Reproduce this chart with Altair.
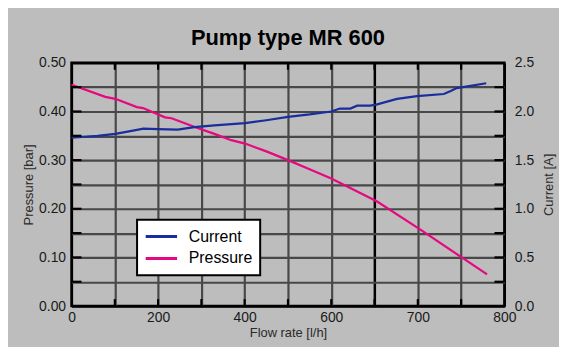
import altair as alt
import pandas as pd

# Pressure curve [bar] vs flow rate [l/h]
flow_p = [0, 78, 101, 151, 165, 216, 231, 291, 330, 369, 401, 450, 500, 550, 600, 653, 703, 749, 780]
pressure = [0.455, 0.430, 0.426, 0.409, 0.407, 0.388, 0.386, 0.366, 0.354, 0.341, 0.334, 0.318,
            0.300, 0.281, 0.262, 0.215, 0.157, 0.102, 0.065]

# Current curve [A] vs flow rate [l/h]
flow_c = [0, 60, 101, 139, 166, 200, 245, 284, 330, 401, 450, 500, 550, 600, 610, 622, 630,
          645, 652, 676, 699, 730, 738, 745, 779]
current = [1.73, 1.75, 1.77, 1.80, 1.823, 1.818, 1.813, 1.84, 1.857, 1.88, 1.91, 1.945, 1.97,
           2.00, 2.03, 2.03, 2.06, 2.06, 2.07, 2.13, 2.157, 2.18, 2.21, 2.24, 2.29]

x_ticks = [0, 100, 200, 300, 400, 500, 600, 650, 700, 750, 800]
p_ticks = [0.0, 0.05, 0.1, 0.15, 0.2, 0.25, 0.3, 0.35, 0.4, 0.45, 0.5]
a_ticks = [0.0, 0.25, 0.5, 0.75, 1.0, 1.25, 1.5, 1.75, 2.0, 2.25, 2.5]
series = ["Current", "Pressure"]
colors = ["#1a2d9c", "#e6087f"]

W, H = 436, 245
FONT = "Liberation Sans"

pdf = pd.DataFrame({"flow": flow_p, "value": pressure, "series": "Pressure"})
cdf = pd.DataFrame({"flow": flow_c, "value": current, "series": "Current"})
ytick_df = pd.DataFrame({"p": p_ticks[1:-1]})
xtick_df = pd.DataFrame({"flow": x_ticks[1:-1]})

xscale = alt.Scale(domain=[0, 600, 800], range=[0, W * 0.6, W], nice=False, zero=False)
pscale = alt.Scale(domain=[0, 0.5], nice=False, zero=False)
ascale = alt.Scale(domain=[0, 2.5], nice=False, zero=False)

xaxis = alt.Axis(
    values=x_ticks,
    labelExpr="indexof([0,200,400,600,700,800], datum.value) >= 0 ? datum.value : ''",
    title="Flow rate [l/h]",
    grid=True,
    gridColor={"condition": {"test": "datum.value == 0 || datum.value == 650 || datum.value == 800",
                             "value": "black"}, "value": "#484848"},
    gridWidth={"condition": {"test": "datum.value == 650", "value": 2.5}, "value": 2.2},
    ticks=False, domain=False, labelFlush=False, labelOverlap=False,
    labelFontSize=14, labelPadding=5, labelColor="#1a1a1a", labelFont=FONT,
    titleFontSize=13, titleFontWeight="normal", titleColor="#2a2a2a", titleFont=FONT, titlePadding=2,
)

left_axis = alt.Axis(
    orient="left", values=p_ticks,
    labelExpr="(round(datum.value*100) % 10 == 0) ? format(datum.value, '.2f') : ''",
    title="Pressure [bar]", grid=True,
    gridColor={"condition": {"test": "datum.value == 0 || datum.value == 0.5", "value": "black"},
               "value": "#484848"},
    gridWidth=2.2, ticks=False, domain=False, labelOverlap=False,
    labelFontSize=14, labelPadding=6, labelColor="#1a1a1a", labelFont=FONT,
    titleFontSize=13, titleFontWeight="normal", titleColor="#2a2a2a", titleFont=FONT, titlePadding=3,
)

right_axis = alt.Axis(
    orient="right", values=a_ticks,
    labelExpr="(round(datum.value*100) % 50 == 0) ? format(datum.value, '.1f') : ''",
    title="Current  [A]", titleAngle=270, grid=False, ticks=False, domain=False, labelOverlap=False,
    labelFontSize=14, labelPadding=10, labelColor="#1a1a1a", labelFont=FONT,
    titleFontSize=13, titleFontWeight="normal", titleColor="#2a2a2a", titleFont=FONT, titlePadding=22,
)

color = alt.Color(
    "series:N",
    scale=alt.Scale(domain=series, range=colors),
    legend=alt.Legend(
        title=None, orient="none", legendX=66, legendY=158,
        fillColor="white", strokeColor="black", padding=7,
        labelFontSize=16, labelFont=FONT, labelColor="black", labelOffset=10,
        symbolType="stroke", symbolSize=1000, symbolStrokeWidth=3, rowPadding=2,
        clipHeight=20,
    ),
)

pressure_line = alt.Chart(pdf).mark_line(strokeWidth=2.2).encode(
    x=alt.X("flow:Q", scale=xscale, axis=xaxis),
    y=alt.Y("value:Q", scale=pscale, axis=left_axis),
    color=color,
)

current_line = alt.Chart(cdf).mark_line(strokeWidth=2.2).encode(
    x=alt.X("flow:Q", scale=xscale, axis=xaxis),
    y=alt.Y("value:Q", scale=ascale, axis=right_axis),
    color=color,
)

left_ticks = alt.Chart(ytick_df).mark_rule(color="black", strokeWidth=2.2).encode(
    y=alt.Y("p:Q", scale=pscale, axis=None), x=alt.value(0), x2=alt.value(10))
right_ticks = alt.Chart(ytick_df).mark_rule(color="black", strokeWidth=2.2).encode(
    y=alt.Y("p:Q", scale=pscale, axis=None), x=alt.value(W - 10), x2=alt.value(W))
top_ticks = alt.Chart(xtick_df).mark_rule(color="black", strokeWidth=2.2).encode(
    x=alt.X("flow:Q", scale=xscale, axis=xaxis), y=alt.value(0), y2=alt.value(7))
bottom_ticks = alt.Chart(xtick_df).mark_rule(color="black", strokeWidth=2.2).encode(
    x=alt.X("flow:Q", scale=xscale, axis=xaxis), y=alt.value(H - 7), y2=alt.value(H))

chart = alt.layer(
    pressure_line, current_line, left_ticks, right_ticks, top_ticks, bottom_ticks
).resolve_scale(y="independent").properties(
    width=W, height=H,
    title=alt.TitleParams("Pump type MR 600", font=FONT, fontSize=22, fontWeight="bold",
                          anchor="middle", offset=6, color="black"),
    autosize=alt.AutoSizeParams(type="none"),
    padding={"left": 64, "top": 54, "right": 55, "bottom": 40},
    background="#bdbdbd",
).configure_view(stroke="black", strokeWidth=2.5).configure_legend(strokeWidth=2)

chart.save("out.html", embed_options={"renderer": "svg", "actions": False})
